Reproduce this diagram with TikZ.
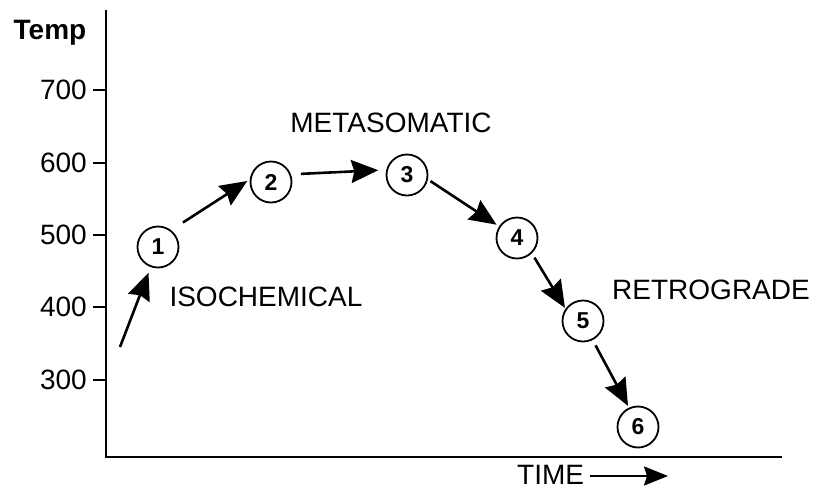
\documentclass[tikz,border=0pt]{standalone}
\usepackage{fontspec}
\setmainfont{Liberation Sans}
\usetikzlibrary{arrows.meta}

\tikzset{
  stage/.style={circle, draw, line width=1.8pt, minimum size=41pt, inner sep=0pt,
    font=\fontsize{23}{25}\selectfont\bfseries},
  phase/.style={font=\fontsize{28}{32}\selectfont, inner sep=1pt},
  path arrow/.style={line width=2.6pt, -{Stealth[length=27pt, width=23pt, inset=3pt]}},
}

\begin{document}
\begin{tikzpicture}[x=1pt, y=-1pt]
    \useasboundingbox (0,0) rectangle (815,491);

    % Axes
    \draw[line width=1.8pt] (106,10) -- (106,457) -- (782,457);
    \node[phase, font=\fontsize{28}{32}\selectfont\bfseries] (temp) at (50,33) {Temp};
    \foreach \t/\y in {700/90, 600/163, 500/235, 400/307, 300/380} {
        \draw[line width=1.8pt] (93,\y) -- (106,\y);
        \node[phase, anchor=east] at (88,\y) {\t};
    }

    % Stages
    \node[stage] (c1) at (158,247) {1};
    \node[stage] (c2) at (271,182) {2};
    \node[stage] (c3) at (407,175) {3};
    \node[stage] (c4) at (517,238) {4};
    \node[stage] (c5) at (583,321) {5};
    \node[stage] (c6) at (638,427) {6};
    \coordinate (start) at (120,347);

    % Path
    \draw[path arrow, shorten >=6pt] (start) -- (c1.-110);
    \draw[path arrow, shorten <=14pt, shorten >=3pt] (c1.52) -- (c2.173);
    \draw[path arrow, shorten <=10pt, shorten >=8pt] (c2.21) -- (c3.166);
    \draw[path arrow, shorten <=3pt, shorten >=3pt] (c3.-12) -- (c4.147);
    \draw[path arrow, shorten <=5pt, shorten >=1pt] (c4.-46) -- (c5.145);
    \draw[path arrow, shorten <=6pt, shorten >=2pt] (c5.-63) -- (c6.115);

    % Labels
    \node[phase] (iso) at (266,297) {ISOCHEMICAL};
    \node[phase] (meta) at (391,123) {METASOMATIC};
    \node[phase] (retro) at (711,290) {RETROGRADE};
    \node[phase, inner sep=0pt, anchor=base west] (time) at (517,484) {TIME};
    \coordinate (timeend) at (668,476);
    \draw[line width=2.4pt, -{Stealth[length=24pt, width=19pt, inset=3pt]}] (time.east |- timeend) ++(6pt,0) -- (timeend);
\end{tikzpicture}
\end{document}
